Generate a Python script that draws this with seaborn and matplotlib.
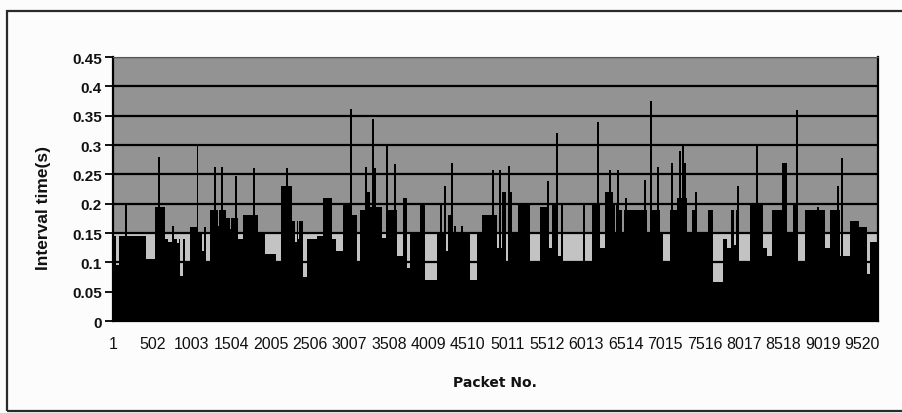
import numpy as np
import pandas as pd
import matplotlib
matplotlib.use("Agg")
import matplotlib.pyplot as plt
import seaborn as sns

# Inter-arrival time of the captured packets, stored as runs of packets:
# first packet number of each run and its interval time in seconds ...
run_start = [1, 39, 77, 420, 535, 662, 700, 751, 820, 835, 852, 890, 916, 979,
             1081, 1132, 1157, 1183, 1233, 1335, 1348, 1437, 1490, 1505, 1589,
             1653, 1843, 1932, 2072, 2135, 2275, 2313, 2339, 2350, 2365, 2415,
             2466, 2593, 2669, 2783, 2834, 2923, 3038, 3101, 3139, 3203, 3266,
             3419, 3495, 3609, 3686, 3736, 3775, 3902, 3965, 4118, 4232, 4257,
             4321, 4537, 4626, 4689, 4880, 4943, 4995, 5030, 5071, 5147, 5300,
             5427, 5516, 5579, 5655, 5719, 5973, 5998, 6087, 6189, 6252, 6354,
             6375, 6392, 6417, 6468, 6494, 6786, 6850, 6952, 6990, 7079, 7168,
             7295, 7359, 7421, 7561, 7625, 7752, 7803, 7854, 7895, 7915, 7956,
             8096, 8261, 8311, 8375, 8502, 8565, 8642, 8705, 8794, 9048, 9112,
             9239, 9366, 9455, 9582, 9620]
run_interval = [0.145, 0.095, 0.145, 0.105, 0.195, 0.14, 0.135, 0.14, 0.133, 0.14,
                0.076, 0.14, 0.10, 0.16, 0.15, 0.12, 0.16, 0.10, 0.19, 0.162,
                0.19, 0.175, 0.157, 0.175, 0.14, 0.18, 0.15, 0.115, 0.10, 0.23,
                0.17, 0.135, 0.17, 0.14, 0.17, 0.075, 0.14, 0.145, 0.21, 0.14,
                0.12, 0.20, 0.18, 0.10, 0.19, 0.22, 0.195, 0.142, 0.19, 0.11,
                0.21, 0.09, 0.148, 0.20, 0.07, 0.148, 0.12, 0.18, 0.15, 0.07,
                0.148, 0.18, 0.125, 0.22, 0.10, 0.22, 0.148, 0.20, 0.10, 0.195,
                0.125, 0.20, 0.11, 0.10, 0.20, 0.10, 0.20, 0.125, 0.22, 0.20,
                0.15, 0.20, 0.19, 0.15, 0.19, 0.15, 0.19, 0.15, 0.10, 0.19,
                0.21, 0.15, 0.19, 0.148, 0.19, 0.067, 0.14, 0.125, 0.19, 0.13,
                0.19, 0.10, 0.20, 0.125, 0.11, 0.19, 0.27, 0.15, 0.20, 0.10,
                0.19, 0.125, 0.19, 0.11, 0.17, 0.16, 0.08, 0.135]

# ... plus the isolated long intervals that stand out above the bulk
peak_packet = [166, 585, 763, 992, 1075, 1297, 1386, 1564, 1793, 2212, 2250,
               3025, 3216, 3305, 3330, 3482, 3584, 3720, 4169, 4219, 4308, 4346,
               4435, 4829, 4918, 5033, 5524, 5643, 5706, 6164, 6316, 6418, 6519,
               6761, 6837, 6926, 7104, 7206, 7244, 7270, 7410, 7586, 7944, 8183,
               8692, 8959, 9213, 9264, 9467]
peak_interval = [0.20, 0.28, 0.162, 0.157, 0.30, 0.263, 0.263, 0.248, 0.26, 0.26,
                 0.22, 0.362, 0.263, 0.345, 0.26, 0.298, 0.267, 0.21, 0.20, 0.23,
                 0.27, 0.162, 0.162, 0.258, 0.258, 0.265, 0.238, 0.32, 0.20, 0.34,
                 0.258, 0.258, 0.21, 0.24, 0.375, 0.263, 0.27, 0.29, 0.30, 0.27,
                 0.22, 0.19, 0.23, 0.30, 0.36, 0.195, 0.23, 0.277, 0.17]

n_packets = 9720
tick_packets = list(range(1, 9521, 501))
y_ticks = [0, 0.05, 0.1, 0.15, 0.2, 0.25, 0.3, 0.35, 0.4, 0.45]
y_tick_labels = ["0", "0.05", "0.1", "0.15", "0.2", "0.25", "0.3", "0.35", "0.4", "0.45"]

sns.set_theme(style="white")
plt.rcParams["font.family"] = ["Liberation Sans", "DejaVu Sans"]

fig = plt.figure(figsize=(9.02, 4.14), dpi=100)
fig.patch.set_facecolor("#fcfcfc")
ax = fig.add_axes([0.1253, 0.2222, 0.8481, 0.6377])

# chart frame around the whole drawing
frame = plt.Rectangle((0.0078, 0.006), 1.2, 0.965, transform=fig.transFigure,
                      fill=False, edgecolor="#2a2a2a", linewidth=1.6, zorder=0)
fig.patches.append(frame)

ax.set_facecolor("#939393")
ax.axhspan(0, 0.15, color="#c3c3c3", zorder=0.1, linewidth=0)

# each run becomes one bin of the histogram, weighted by its interval
run_edges = [float(p) - 0.5 for p in run_start] + [n_packets + 0.5]
sns.histplot(x=run_start, weights=run_interval, bins=run_edges,
             color="black", alpha=1, linewidth=0, ax=ax, zorder=2)

peak_width = 22
peak_edges = []
for p in peak_packet:
    peak_edges += [p - peak_width / 2, p + peak_width / 2]
sns.histplot(x=peak_packet, weights=peak_interval, bins=peak_edges,
             color="black", alpha=1, linewidth=0, ax=ax, zorder=2)

ax.set_xlim(0.5, n_packets + 0.5)
ax.set_ylim(0, 0.45)
ax.set_yticks(y_ticks)
ax.set_yticklabels(y_tick_labels, fontweight="bold", fontsize=11)
ax.set_xticks(tick_packets)
ax.set_xticklabels([str(t) for t in tick_packets], fontsize=11.5)

ax.set_axisbelow(True)
ax.yaxis.grid(True, color="black", linewidth=1.6)
ax.xaxis.grid(False)

ax.tick_params(axis="y", which="major", left=True, length=6, width=1.3,
               color="black", pad=2, labelcolor="#111111")
ax.tick_params(axis="x", which="major", bottom=False, length=0, pad=11,
               labelcolor="#111111")

for side in ["left", "bottom", "right"]:
    ax.spines[side].set_color("black")
    ax.spines[side].set_linewidth(1.6)
ax.spines["top"].set_color("#555555")
ax.spines["top"].set_linewidth(0.8)

ax.set_ylabel("Interval time(s)", fontweight="bold", fontsize=12.5, color="#111111")
ax.yaxis.set_label_coords(-0.081, 0.43)
ax.set_xlabel("Packet No.", fontweight="bold", fontsize=10, color="#111111",
              family=["DejaVu Sans"])
ax.xaxis.set_label_coords(0.499, -0.205)

fig.savefig("out.png", dpi=100, facecolor=fig.get_facecolor())
